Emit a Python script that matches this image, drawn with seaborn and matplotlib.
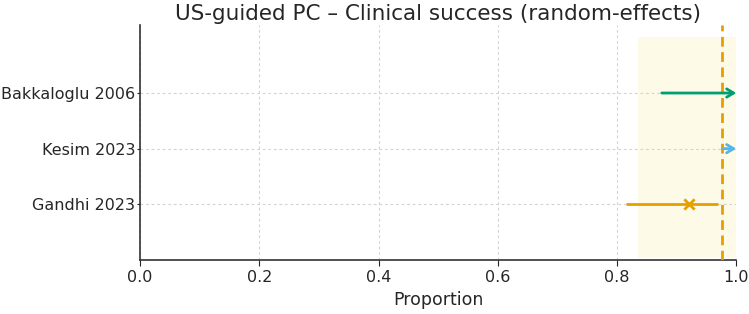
import numpy as np
import pandas as pd
import matplotlib
matplotlib.use('Agg')
import matplotlib.pyplot as plt
import seaborn as sns

# study-level estimates (proportion with clinical success)
studies = ['Gandhi 2023', 'Kesim 2023', 'Bakkaloglu 2006']
est = [0.921, 1.0, 1.0]
ci_lo = [0.815, 0.977, 0.875]
ci_hi = [0.970, 1.0, 1.0]
colours = ['#E69F00', '#56B4E9', '#009E73']

# pooled random-effects estimate
pooled = 0.976
pooled_lo = 0.835
pooled_hi = 1.0

df = pd.DataFrame({'study': studies, 'est': est, 'lo': ci_lo, 'hi': ci_hi})
df['pos'] = range(len(df))

sns.set_style('white')
plt.rcParams['font.family'] = ['DejaVu Sans']

fig, ax = plt.subplots(figsize=(7.49, 3.14), dpi=100)
fig.subplots_adjust(left=0.187, right=0.983, bottom=0.172, top=0.92)

# pooled CI band and pooled estimate
ax.fill_betweenx([-0.97, 3.0], pooled_lo, pooled_hi, color='#F0E442', alpha=0.12, lw=0, zorder=0)
ax.axvline(pooled, color='#E69F00', ls=(0, (3.5, 2)), lw=2, zorder=3)

for i, row in df.iterrows():
    c = colours[i]
    if row['hi'] >= 1.0 and row['est'] >= 1.0:
        # interval reaching the upper bound drawn as an arrow
        ax.annotate('', xy=(row['hi'], row['pos']), xytext=(row['lo'], row['pos']),
                    arrowprops=dict(arrowstyle='->,head_length=0.5,head_width=0.3', color=c, lw=2,
                                    shrinkA=0, shrinkB=0), zorder=4)
    else:
        ax.hlines(row['pos'], row['lo'], row['hi'], color=c, lw=2, zorder=4)

pts = df[df['est'] < 1.0]
sns.scatterplot(data=pts, x='est', y='pos', ax=ax, marker='x', s=55, linewidth=2,
                color=colours[0], zorder=5, legend=False)

ax.set_xlim(0, 1)
ax.set_ylim(-1, 3.22)
ax.set_yticks(df['pos'])
ax.set_yticklabels(df['study'], fontsize=11.5)
ax.set_xticks(np.arange(0, 1.01, 0.2))
ax.tick_params(axis='x', labelsize=11.5, length=4, bottom=True)
ax.tick_params(axis='y', length=2, pad=1.5, left=True)
ax.set_xlabel('Proportion', fontsize=12.5)
ax.set_ylabel('')
ax.set_title('US-guided PC \u2013 Clinical success (random-effects)', fontsize=15.5, pad=4)
ax.grid(True, ls=(0, (2.5, 2.5)), color='#d3d3d3', lw=0.8)
sns.despine(ax=ax)
for s in ['left', 'bottom']:
    ax.spines[s].set_color('#333333')
    ax.spines[s].set_linewidth(1.2)

fig.savefig('out.png', dpi=100)
